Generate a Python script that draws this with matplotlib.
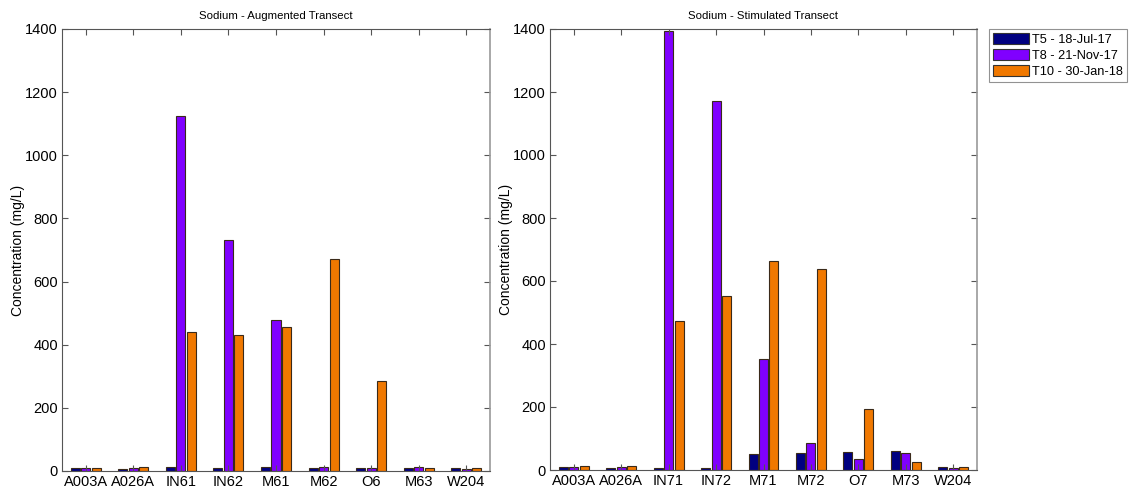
import matplotlib
matplotlib.use("Agg")
import matplotlib.pyplot as plt
import numpy as np

plt.rcParams['font.family'] = ['Liberation Sans', 'DejaVu Sans']

# Sampling sites for each transect
sites_aug = ["A003A", "A026A", "IN61", "IN62", "M61", "M62", "O6", "M63", "W204"]
sites_stim = ["A003A", "A026A", "IN71", "IN72", "M71", "M72", "O7", "M73", "W204"]

# Sampling events
events = ["T5 - 18-Jul-17", "T8 - 21-Nov-17", "T10 - 30-Jan-18"]

# Sodium concentration (mg/L), augmented transect
aug_t5 = [9.5, 7, 12, 10, 12, 8, 10, 10, 8]
aug_t8 = [10, 10, 1125, 731, 478, 14, 8, 12, 7]
aug_t10 = [11, 12, 439, 431, 456, 673, 286, 11, 9]

# Sodium concentration (mg/L), stimulated transect
stim_t5 = [9.5, 7, 7, 7, 51, 53, 58, 60, 8]
stim_t8 = [10, 11, 1395, 1172, 352, 87, 36, 53, 7]
stim_t10 = [12, 13, 472, 552, 662, 638, 193, 26, 10]

colors = ["#000080", "#8000FF", "#F07800"]
edge = "#3a2a1a"

fig = plt.figure(figsize=(11.41, 4.93), dpi=100)
W, H = 1141, 493
ax1 = fig.add_axes([62 / W, 1 - 471 / H, (490 - 62) / W, (471 - 29) / H])
ax2 = fig.add_axes([550 / W, 1 - 470 / H, (977 - 550) / W, (470 - 29) / H])


def draw(ax, sites, series, title):
    x = np.arange(1, len(sites) + 1)
    step = 0.22
    width = 0.19
    handles = []
    for i, (vals, c) in enumerate(zip(series, colors)):
        h = ax.bar(x + (i - 1) * step, vals, width=width, color=c,
                   edgecolor=edge, linewidth=0.8, label=events[i])
        handles.append(h)
    ax.set_xlim(0.5, len(sites) + 0.5)
    ax.set_ylim(0, 1400)
    ax.set_yticks(np.arange(0, 1401, 200))
    ax.set_xticks(x)
    ax.set_xticklabels(sites)
    ax.tick_params(direction="in", top=True, right=True, length=4,
                   labelsize=10.5, color="#555555", pad=3)
    for s in ax.spines.values():
        s.set_color("#555555")
        s.set_linewidth(0.8)
    ax.spines["right"].set_color("#999999")
    ax.spines["right"].set_linewidth(1.2)
    ax.set_ylabel("Concentration (mg/L)", fontsize=10, labelpad=0)
    ax.set_title(title, fontsize=8.2, pad=7)
    return handles


draw(ax1, sites_aug, [aug_t5, aug_t8, aug_t10], "Sodium - Augmented Transect")
handles = draw(ax2, sites_stim, [stim_t5, stim_t8, stim_t10], "Sodium - Stimulated Transect")

leg = fig.legend(handles, events, loc="upper left",
                 bbox_to_anchor=(989 / W, 1 - 29 / H), fontsize=9.2,
                 frameon=True, fancybox=False, borderpad=0.35,
                 handlelength=2.8, handleheight=0.95, handletextpad=0.2,
                 labelspacing=0.22, borderaxespad=0)
leg.get_frame().set_edgecolor("#777777")
leg.get_frame().set_linewidth(0.8)
for p in leg.get_patches():
    p.set_edgecolor("#333333")

fig.savefig("out.png", dpi=100)
